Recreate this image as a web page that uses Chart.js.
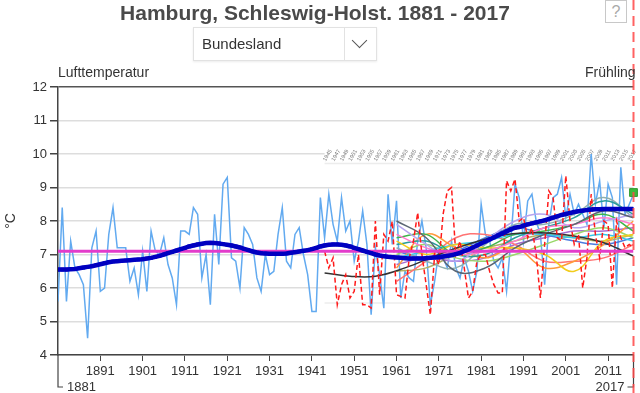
<!DOCTYPE html>
<html>
<head>
<meta charset="utf-8">
<script src="https://cdn.jsdelivr.net/npm/chart.js@4.4.1/dist/chart.umd.min.js"></script>
<style>
  body { margin: 0; background: #fff; font-family: "Liberation Sans", Arial, sans-serif; }
  #wrap { position: relative; width: 640px; height: 393px; overflow: hidden; }
  #chart { position: absolute; left: 0; top: 0; }
  .txt { position: absolute; white-space: nowrap; color: #333; }
  #title { left: 0; width: 630px; top: 1px; text-align: center; font-weight: bold; font-size: 21px; color: #4a4a4a; }
  #help { left: 605px; top: 0; width: 20px; height: 21px; border: 1px solid #c8c8c8; color: #aaa; font-size: 16px; text-align: center; line-height: 21px; background: #fff; }
  #select { position: absolute; left: 193px; top: 27px; width: 182px; height: 32px; border: 1px solid #e2e2e2; background: #fff; box-shadow: 0 1px 2px rgba(0,0,0,0.08); }
  #select .lbl { position: absolute; left: 8px; top: 7px; font-size: 15px; color: #333; }
  #select .sep { position: absolute; left: 150px; top: 0; width: 1px; height: 32px; background: #e2e2e2; }
  #select .chev { position: absolute; left: 160px; top: 7px; width: 10px; height: 10px; border-right: 1.2px solid #555; border-bottom: 1.2px solid #555; transform: rotate(45deg); }
  #lt { left: 58px; top: 64px; font-size: 14px; }
  #fr { left: 585px; top: 64px; font-size: 14px; }
</style>
</head>
<body>
<div id="wrap">
  <canvas id="chart" width="640" height="393"></canvas>
  <div class="txt" id="title">Hamburg, Schleswig-Holst. 1881 - 2017</div>
  <div class="txt" id="help">?</div>
  <div id="select"><span class="lbl">Bundesland</span><span class="sep"></span><span class="chev"></span></div>
  <div class="txt" id="lt">Lufttemperatur</div>
  <div class="txt" id="fr">Frühling</div>
</div>
<script>
// Jahresreihe Frühling (Gebietsmittel), ab 1881
const firstYear = 1881;
const springTemp = [
  5.6, 8.4, 5.6, 7.4, 6.6, 6.4, 6.1, 4.5, 7.2, 7.7,
  5.9, 6.0, 7.6, 8.4, 7.2, 7.2, 7.2, 6.2, 6.6, 5.8,
  7.1, 5.9, 7.7, 7.1, 7.0, 7.5, 6.7, 6.3, 5.5, 7.7,
  7.7, 7.6, 8.4, 8.2, 6.3, 7.0, 5.5, 8.2, 6.7, 9.1,
  9.3, 6.9, 6.8, 6.0, 7.8, 7.6, 7.3, 6.3, 5.9, 7.0,
  6.4, 6.5, 7.6, 8.4, 6.8, 6.6, 7.6, 7.8, 7.0, 6.4,
  5.3, 5.3, 8.7, 7.5, 8.8, 7.9, 7.4, 8.7, 7.7, 8.0,
  6.8, 7.4, 8.3, 7.3, 5.2, 7.2, 6.4, 5.4, 8.8, 7.3,
  8.6, 5.7, 6.5, 6.3, 6.2, 7.4, 8.0, 7.2, 5.5, 6.2,
  7.1, 6.9, 6.6, 7.4, 6.6, 6.3, 6.9, 6.5, 5.9, 6.5,
  8.5, 7.6, 7.4, 6.8, 6.6, 6.9, 5.9, 7.4, 9.1, 8.7,
  7.4, 8.6, 8.8, 8.0, 7.6, 6.1, 7.9, 8.7, 8.8, 9.3,
  8.1, 8.8, 8.2, 8.5, 8.2, 7.9, 10.0, 8.5, 9.2, 7.8,
  9.1, 8.7, 6.1, 9.6, 8.2, 8.5, 8.8
];
// geglättete Reihe (dicke Linie)
const springSmooth = [
  6.55, 6.55, 6.55, 6.56, 6.57, 6.59, 6.61, 6.63, 6.65, 6.68,
  6.71, 6.74, 6.77, 6.79, 6.80, 6.81, 6.82, 6.83, 6.84, 6.85,
  6.86, 6.88, 6.90, 6.93, 6.96, 7.00, 7.04, 7.08, 7.12, 7.16,
  7.20, 7.24, 7.27, 7.30, 7.32, 7.34, 7.35, 7.34, 7.33, 7.31,
  7.29, 7.27, 7.24, 7.21, 7.17, 7.13, 7.09, 7.06, 7.04, 7.03,
  7.02, 7.02, 7.02, 7.02, 7.03, 7.05, 7.07, 7.09, 7.11, 7.13,
  7.16, 7.20, 7.24, 7.27, 7.29, 7.30, 7.30, 7.29, 7.27, 7.24,
  7.20, 7.16, 7.12, 7.08, 7.04, 7.00, 6.97, 6.95, 6.93, 6.92,
  6.91, 6.90, 6.89, 6.88, 6.88, 6.88, 6.88, 6.89, 6.90, 6.91,
  6.92, 6.94, 6.96, 6.98, 7.01, 7.05, 7.10, 7.15, 7.21, 7.27,
  7.33, 7.39, 7.45, 7.51, 7.57, 7.63, 7.69, 7.75, 7.80, 7.82,
  7.86, 7.90, 7.93, 7.96, 7.99, 8.02, 8.06, 8.10, 8.14, 8.18,
  8.21, 8.24, 8.27, 8.29, 8.31, 8.33, 8.34, 8.35, 8.35, 8.36,
  8.36, 8.36, 8.36, 8.36, 8.36, 8.36, 8.36
];
const meanValue = 7.1;

// Station (rot gestrichelt), ab 1944
const stationStart = 1944;
const stationTemp = [
  7.1, 6.6, 6.9, 5.5, 6.1, 6.4, 5.7, 5.9, 7.0, 5.5,
  5.5, 5.4, 8.0, 5.8, 7.6, 7.4, 8.0, 5.8, 5.75, 5.7,
  6.9, 7.4, 8.25, 7.0, 6.1, 5.2, 7.0, 6.7, 8.2, 8.9,
  9.0, 7.0, 7.4, 6.6, 5.7, 5.9, 6.8, 7.0, 7.0, 6.5,
  6.1, 5.85, 5.85, 9.2, 8.9, 9.25, 8.0, 8.1, 7.5, 7.8,
  7.0, 5.7, 7.3, 8.9, 8.7, 7.5, 7.4, 9.35, 8.0, 7.3,
  7.6, 6.0, 6.9, 8.8, 7.6, 6.9, 8.0, 7.9, 6.0, 8.0,
  7.5, 7.2, 7.3, 7.2
];
const stationTrendYears = [1944, 1950, 1956, 1963, 1971, 1979, 1987, 1995, 2003, 2010, 2017];
const stationTrend = [6.45, 6.35, 6.35, 6.6, 7.0, 7.35, 7.6, 7.65, 7.55, 7.35, 6.95];

// gleitende Mittel weiterer Reihen ab 1961
const smoothYears = [1961, 1968, 1975, 1982, 1989, 1996, 2003, 2010, 2017];
const runSlate    = [8.0, 7.5, 6.5, 6.6, 7.2, 7.6, 7.9, 8.3, 8.1];
const runLavender = [7.9, 7.3, 6.8, 7.4, 8.0, 8.2, 7.8, 8.0, 8.2];
const runPink     = [7.6, 7.2, 7.0, 7.1, 7.4, 7.8, 7.9, 8.1, 7.9];
const runGreen    = [7.5, 7.6, 7.0, 7.2, 7.6, 7.7, 7.9, 8.2, 7.7];
const runYellow   = [7.4, 7.0, 7.3, 7.2, 7.2, 7.0, 6.5, 7.4, 7.6];
const runTeal     = [7.3, 7.4, 7.0, 7.0, 7.5, 7.8, 8.1, 8.6, 8.2];
const runGrayTeal = [7.2, 6.8, 6.6, 7.3, 7.9, 7.9, 8.2, 8.7, 8.1];
const runCyan     = [6.9, 7.1, 7.3, 7.4, 7.6, 7.6, 7.5, 7.6, 7.4];
const runOrange   = [6.6, 7.6, 7.2, 6.9, 7.2, 6.6, 6.8, 7.3, 8.0];
const runSalmon   = [6.2, 6.8, 7.5, 7.6, 7.3, 6.8, 6.8, 6.9, 7.3];
const runLime     = [7.0, 7.3, 6.9, 6.8, 7.0, 7.3, 7.6, 7.8, 7.5];
const runBlue     = [7.1, 6.9, 7.1, 7.5, 7.8, 7.6, 7.4, 7.3, 7.5];
const runPurple   = [6.7, 6.9, 6.8, 6.9, 7.3, 7.5, 7.7, 7.7, 7.8];
const runOlive    = [6.5, 6.6, 7.0, 7.2, 7.4, 7.6, 7.5, 7.4, 7.6];

const currentYear = 2017;
const currentValue = 8.85;

const xTickYears = [1891, 1901, 1911, 1921, 1931, 1941, 1951, 1961, 1971, 1981, 1991, 2001, 2011];
const overlayYears = [1944, 2017];
const overlayTop = 9.72;
const overlayBottom = 5.55;
const topLabelYears = [1945, 1947, 1949, 1951, 1953, 1955, 1957, 1959, 1961, 1963, 1965, 1967, 1969,
  1971, 1973, 1975, 1977, 1979, 1981, 1983, 1985, 1987, 1989, 1991, 1993, 1995, 1997, 1999,
  2001, 2003, 2005, 2007, 2009, 2011, 2013, 2015, 2017];

function series(start, values) {
  return values.map((v, i) => ({ x: start + i, y: v }));
}
function pairs(xs, ys) {
  return xs.map((x, i) => ({ x: x, y: ys[i] }));
}
function thin(data, color, order) {
  return { data: data, borderColor: color, borderWidth: 1.5, pointRadius: 0, tension: 0.4, order: order, fill: false };
}

const runColors = [
  [runSlate, "#5b6673"], [runLavender, "#b6a4ef"], [runPink, "#ff7ccd"], [runGreen, "#3fb54a"],
  [runYellow, "#f2cc1c"], [runTeal, "#2a9d9a"], [runGrayTeal, "#8db0b0"], [runCyan, "#35c8ea"],
  [runOrange, "#ff9a3a"], [runSalmon, "#ff7373"], [runLime, "#9ad76a"], [runBlue, "#4b7be0"],
  [runPurple, "#a86bd0"], [runOlive, "#b0b064"]
];

const datasets = [
  { data: series(firstYear, springSmooth), borderColor: "#0000c0", backgroundColor: "#0000c0",
    borderWidth: 4.5, pointStyle: "rect", pointRadius: 2.6, pointBorderWidth: 0, order: 0 },
  { data: [{ x: firstYear, y: meanValue }, { x: currentYear, y: meanValue }], borderColor: "#e33ccb",
    borderWidth: 3, pointRadius: 0, order: 1 },
  { data: series(stationStart, stationTemp), borderColor: "#ff1a1a", borderWidth: 1.5,
    borderDash: [5, 3], pointRadius: 0, order: 2 },
  thin(pairs(stationTrendYears, stationTrend), "#333333", 3),
  { data: [{ x: currentYear, y: currentValue }], borderColor: "#2d9a2d", backgroundColor: "#3cb83c",
    pointStyle: "rect", pointRadius: 5.5, borderWidth: 1, showLine: false, clip: false, order: 0 },
  { data: series(firstYear, springTemp), borderColor: "rgb(98,170,240)", borderWidth: 1.5,
    pointRadius: 0, order: 6 },
  { data: pairs(overlayYears, [overlayTop, overlayTop]), borderColor: "#ececec", borderWidth: 1.5, pointRadius: 0, order: 9 },
  { data: pairs(overlayYears, [overlayBottom, overlayBottom]), borderColor: "#ececec", borderWidth: 1.5, pointRadius: 0, order: 9 }
];
runColors.forEach(function (r) {
  datasets.push(thin(pairs(smoothYears, r[0]), r[1], 5));
});

// extras: Beschriftung oben, Klammern 1881/2017, rote Markierung
const extras = {
  id: "extras",
  beforeDatasetsDraw(chart) {
    const { ctx, scales: { x, y } } = chart;
    const x0 = x.getPixelForValue(overlayYears[0]);
    const x1 = x.getPixelForValue(overlayYears[1]);
    ctx.save();
    ctx.fillStyle = "#fff";
    const yt = y.getPixelForValue(10.25), yb = y.getPixelForValue(overlayTop + 0.03);
    ctx.fillRect(x0, yt, x1 - x0, yb - yt);
    ctx.fillStyle = "#777";
    ctx.font = "5.5px Arial";
    topLabelYears.forEach(function (yr) {
      ctx.save();
      ctx.translate(x.getPixelForValue(yr) - 3, y.getPixelForValue(overlayTop) - 2);
      ctx.rotate(-Math.PI / 3);
      ctx.fillText(String(yr), 0, 0);
      ctx.restore();
    });
    ctx.restore();
  },
  afterDraw(chart) {
    const { ctx, chartArea, scales: { x } } = chart;
    const xl = x.getPixelForValue(firstYear);
    const xr = x.getPixelForValue(currentYear);
    const yb = chartArea.bottom;
    const yl = yb + 32;
    ctx.save();
    ctx.strokeStyle = "#444";
    ctx.lineWidth = 1.2;
    ctx.beginPath();
    ctx.moveTo(xl, yb); ctx.lineTo(xl, yl); ctx.lineTo(xl + 5, yl);
    ctx.moveTo(xr, yb); ctx.lineTo(xr, yl); ctx.lineTo(xr - 6, yl);
    ctx.stroke();
    ctx.fillStyle = "#333";
    ctx.font = "13px 'Liberation Sans', Arial";
    ctx.textBaseline = "middle";
    ctx.textAlign = "left";
    ctx.fillText(String(firstYear), xl + 9, yl);
    ctx.textAlign = "right";
    ctx.fillText(String(currentYear), xr - 9, yl);
    ctx.strokeStyle = "rgba(255,70,70,0.85)";
    ctx.lineWidth = 2;
    ctx.setLineDash([10, 6]);
    ctx.beginPath();
    ctx.moveTo(xr, 0); ctx.lineTo(xr, chart.height);
    ctx.stroke();
    ctx.restore();
  }
};

new Chart(document.getElementById("chart").getContext("2d"), {
  type: "line",
  data: { datasets: datasets },
  plugins: [extras],
  options: {
    responsive: false,
    animation: false,
    layout: { padding: { top: 87, right: 3, left: 0, bottom: 0 } },
    plugins: { legend: { display: false }, tooltip: { enabled: false } },
    scales: {
      x: {
        type: "linear", min: firstYear, max: currentYear,
        afterBuildTicks: function (s) { s.ticks = xTickYears.map(v => ({ value: v })); },
        afterFit: function (s) { s.height = 38; },
        ticks: { font: { size: 13, family: "'Liberation Sans', Arial" }, color: "#333", padding: 3, maxRotation: 0,
          callback: v => String(v) },
        grid: { drawOnChartArea: false, color: "#444", tickLength: 6 },
        border: { color: "#444", width: 1.5 }
      },
      y: {
        min: 4, max: 12,
        afterFit: function (s) { s.width = 58; },
        ticks: { stepSize: 1, font: { size: 13, family: "'Liberation Sans', Arial" }, color: "#333", padding: 3 },
        grid: { color: c => (c.tick && c.tick.value === 12 ? "#555" : "#dddddd"), lineWidth: 1.5,
          tickColor: "#444", tickLength: 8 },
        border: { color: "#444", width: 1.5 },
        title: { display: true, text: "°C", font: { size: 14, family: "'Liberation Sans', Arial" }, color: "#333", padding: 3 }
      }
    }
  }
});
</script>
</body>
</html>
